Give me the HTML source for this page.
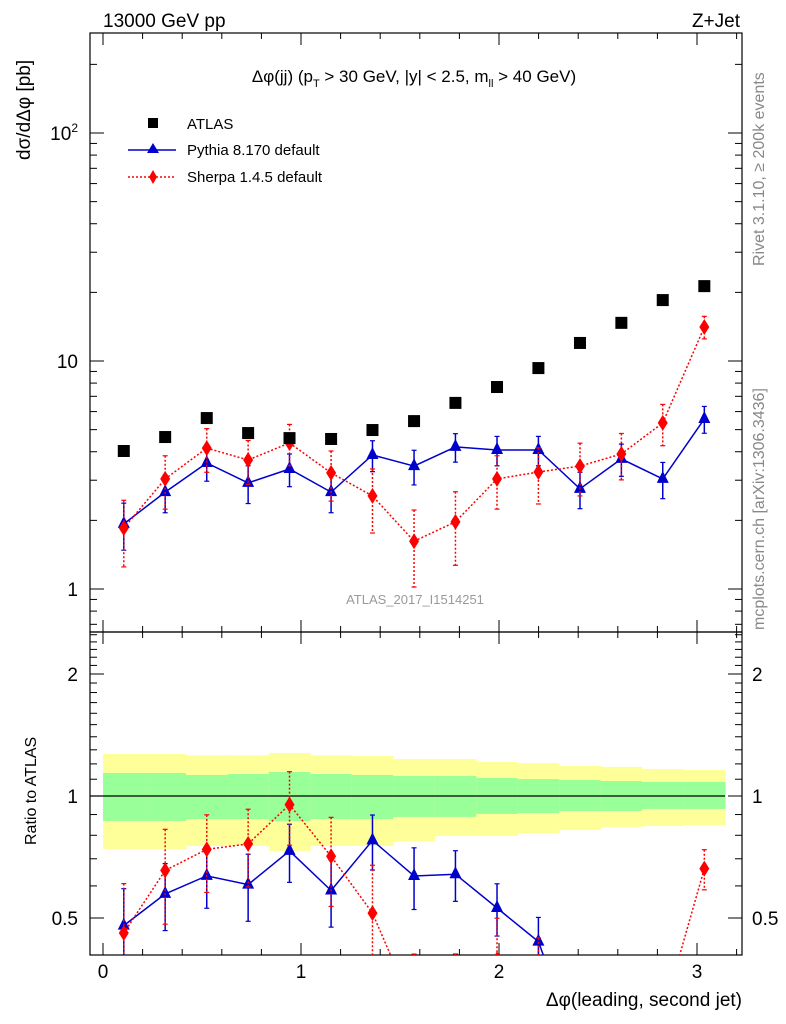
<!DOCTYPE html>
<html><head><meta charset="utf-8"><style>
html,body{margin:0;padding:0;background:#fff;width:786px;height:1024px;overflow:hidden;}
svg{display:block;font-family:"Liberation Sans",Arial,sans-serif;}
</style></head><body>
<svg id="c" width="786" height="1024" viewBox="0 0 786 1024">
<text x="103" y="27" font-size="19">13000 GeV pp</text>
<text x="740" y="27" font-size="19" text-anchor="end">Z+Jet</text>
<text x="414" y="82" font-size="17" text-anchor="middle">Δφ(jj) (p<tspan font-size="11" dy="5">T</tspan><tspan dy="-5"> &gt; 30 GeV, |y| &lt; 2.5, m</tspan><tspan font-size="11" dy="5">ll</tspan><tspan dy="-5"> &gt; 40 GeV)</tspan></text>
<text transform="translate(30,160) rotate(-90)" font-size="19">dσ/dΔφ [pb]</text>
<text transform="translate(36,845) rotate(-90)" font-size="16">Ratio to ATLAS</text>
<text transform="translate(764,266) rotate(-90)" font-size="16" fill="#888">Rivet 3.1.10, ≥ 200k events</text>
<text transform="translate(764,630) rotate(-90)" font-size="16" fill="#888">mcplots.cern.ch [arXiv:1306.3436]</text>
<text x="415" y="604" font-size="13" fill="#999" text-anchor="middle">ATLAS_2017_I1514251</text>
<text x="742" y="1006" font-size="19" text-anchor="end">Δφ(leading, second jet)</text>
<g>
<rect x="148" y="118" width="10" height="10" fill="#000"/>
<text x="187" y="129" font-size="15">ATLAS</text>
<line x1="128" y1="150" x2="176" y2="150" stroke="#00c" stroke-width="1.5"/>
<polygon points="153,143 159,153 147,153" fill="#00c"/>
<text x="187" y="155" font-size="15">Pythia 8.170 default</text>
<line x1="128" y1="177" x2="176" y2="177" stroke="#f00" stroke-width="1.5" stroke-dasharray="2,2"/>
<polygon points="153,170 157,177 153,184 149,177" fill="#f00"/>
<text x="187" y="182" font-size="15">Sherpa 1.4.5 default</text>
</g>
<g id="g"></g>
</svg>
<script>
const centers=[0.105,0.314,0.524,0.733,0.942,1.152,1.361,1.571,1.780,1.990,2.199,2.409,2.618,2.827,3.037];
const binW=0.2094;
const atlas=[4.03,4.64,5.62,4.83,4.59,4.55,4.98,5.45,6.55,7.69,9.31,12.0,14.7,18.5,21.3];
const pythia=[1.93,2.66,3.57,2.92,3.36,2.66,3.87,3.46,4.20,4.07,4.07,2.75,3.72,3.04,5.57];
const pythiaErr=[0.45,0.5,0.6,0.55,0.55,0.5,0.6,0.6,0.6,0.6,0.6,0.5,0.6,0.55,0.75];
const sherpa=[1.85,3.04,4.15,3.68,4.37,3.23,2.56,1.62,1.97,3.04,3.26,3.46,3.91,5.35,14.1];
const sherpaErr=[0.6,0.8,0.9,0.8,0.9,0.8,0.8,0.6,0.7,0.8,0.9,0.9,0.9,1.1,1.6];
const yellowHi=[1.27,1.27,1.26,1.26,1.277,1.26,1.255,1.234,1.234,1.213,1.206,1.186,1.18,1.166,1.16];
const yellowLo=[0.74,0.74,0.753,0.753,0.732,0.753,0.753,0.774,0.797,0.797,0.81,0.824,0.839,0.843,0.848];
const greenHi=[1.14,1.14,1.127,1.133,1.146,1.133,1.127,1.12,1.12,1.108,1.101,1.095,1.089,1.083,1.083];
const greenLo=[0.868,0.868,0.877,0.877,0.868,0.877,0.877,0.888,0.888,0.903,0.908,0.918,0.918,0.929,0.929];
const xTicks=[0,1,2,3];
const yTicks=[1,10,100];
const rTicks=[0.5,1,2];

const L=90,R=742,T=33,M=632,B=955;
const X=v=>103+198*v;
const Y=v=>589-228*Math.log10(v);
const RY=v=>796-122*Math.log2(v);
const NS='http://www.w3.org/2000/svg';
const g=document.getElementById('g');
function el(t,a,p){const e=document.createElementNS(NS,t);for(const k in a)e.setAttribute(k,a[k]);(p||g).appendChild(e);return e;}
const defs=el('defs',{});
const c1=el('clipPath',{id:'cm'},defs);el('rect',{x:L,y:T,width:R-L,height:M-T},c1);
const c2=el('clipPath',{id:'cr'},defs);el('rect',{x:L,y:M,width:R-L,height:B-M},c2);
const bands=el('g',{'clip-path':'url(#cr)'});


centers.forEach((c,i)=>{
 const x0=X(c-binW/2),x1=X(c+binW/2);
 const y=el('rect',{x:x0,y:RY(yellowHi[i]),width:x1-x0+0.5,height:RY(yellowLo[i])-RY(yellowHi[i]),fill:'#ffff99'},bands);
 
 
 const gr=el('rect',{x:x0,y:RY(greenHi[i]),width:x1-x0+0.5,height:RY(greenLo[i])-RY(greenHi[i]),fill:'#99ff99'},bands);
 
 
});
const ref1=el('line',{x1:L,x2:X(3.1416),y1:RY(1),y2:RY(1),stroke:'#000','stroke-width':1.2});


const f1=el('rect',{x:L,y:T,width:R-L,height:M-T,fill:'none',stroke:'#000','stroke-width':1.2});


const f2=el('rect',{x:L,y:M,width:R-L,height:B-M,fill:'none',stroke:'#000','stroke-width':1.2});


for(let k=0;k<=16;k++){const v=k*0.2;const x=X(v);if(x<L||x>R)continue;const maj=Math.abs(v-Math.round(v))<1e-6;const h=maj?12:6;
 [[T,1],[M,-1],[M,1],[B,-1]].forEach(([y,s])=>el('line',{x1:x,x2:x,y1:y,y2:y+s*h,stroke:'#000'}));}
xTicks.forEach(v=>{const t=el('text',{x:X(v),y:978,'font-size':19,'text-anchor':'middle'});t.textContent=v;
 
 });
for(let d=-1;d<=2;d++)for(let m=1;m<10;m++){const v=m*Math.pow(10,d);const y=Y(v);if(y<T||y>M)continue;const h=m==1?14:7;
 el('line',{x1:L,x2:L+h,y1:y,y2:y,stroke:'#000'});el('line',{x1:R,x2:R-h,y1:y,y2:y,stroke:'#000'});}
yTicks.forEach(v=>{const t=el('text',{x:78,y:Y(v)+7,'font-size':19,'text-anchor':'end'});
 if(v==100){t.textContent='10';const s=el('tspan',{'font-size':12,dy:-8},t);s.textContent='2';}else t.textContent=v;
 
 });
for(let k=4;k<=25;k++){const v=k/10;const y=RY(v);if(y<M||y>B)continue;const maj=(k==5||k==10||k==20);const h=maj?14:7;
 el('line',{x1:L,x2:L+h,y1:y,y2:y,stroke:'#000'});el('line',{x1:R,x2:R-h,y1:y,y2:y,stroke:'#000'});}
rTicks.forEach(v=>{[[78,'end'],[752,'start']].forEach(([x,a])=>{const t=el('text',{x:x,y:RY(v)+7,'font-size':19,'text-anchor':a});t.textContent=v;
 
 });});
function series(vals,errs,ref,ys,clip,color,dash,marker,name){
 const gg=el('g',{'clip-path':clip});
 
 
 const v=vals.map((a,i)=>ref?a/ref[i]:a), e=errs.map((a,i)=>ref?a/ref[i]:a);
 const pts=centers.map((c,i)=>X(c)+','+ys(v[i])).join(' ');
 el('polyline',{points:pts,fill:'none',stroke:color,'stroke-width':1.5,'stroke-dasharray':dash},gg);
 centers.forEach((c,i)=>{const x=X(c),y1=ys(v[i]+e[i]),y2=ys(Math.max(v[i]-e[i],1e-3));
  el('line',{x1:x,x2:x,y1:y1,y2:y2,stroke:color,'stroke-width':1.5,'stroke-dasharray':dash},gg);
  el('line',{x1:x-2.5,x2:x+2.5,y1:y1,y2:y1,stroke:color,'stroke-width':1.2},gg);
  el('line',{x1:x-2.5,x2:x+2.5,y1:y2,y2:y2,stroke:color,'stroke-width':1.2},gg);
  const y=ys(v[i]);
  if(marker=='tri')el('polygon',{points:`${x},${y-8} ${x+6},${y+4} ${x-6},${y+4}`,fill:color},gg);
  else el('polygon',{points:`${x},${y-8} ${x+5},${y} ${x},${y+8} ${x-5},${y}`,fill:color},gg);
 });
}
series(pythia,pythiaErr,null,Y,'url(#cm)','#00c','none','tri','pythia-series');
series(sherpa,sherpaErr,null,Y,'url(#cm)','#f00','2,2','dia','sherpa-series');
const ag=el('g',{});


centers.forEach((c,i)=>{el('rect',{x:X(c)-6,y:Y(atlas[i])-6,width:12,height:12,fill:'#000'},ag);});
series(pythia,pythiaErr,atlas,RY,'url(#cr)','#00c','none','tri','pythia-ratio');
series(sherpa,sherpaErr,atlas,RY,'url(#cr)','#f00','2,2','dia','sherpa-ratio');
</script>
</body></html>
